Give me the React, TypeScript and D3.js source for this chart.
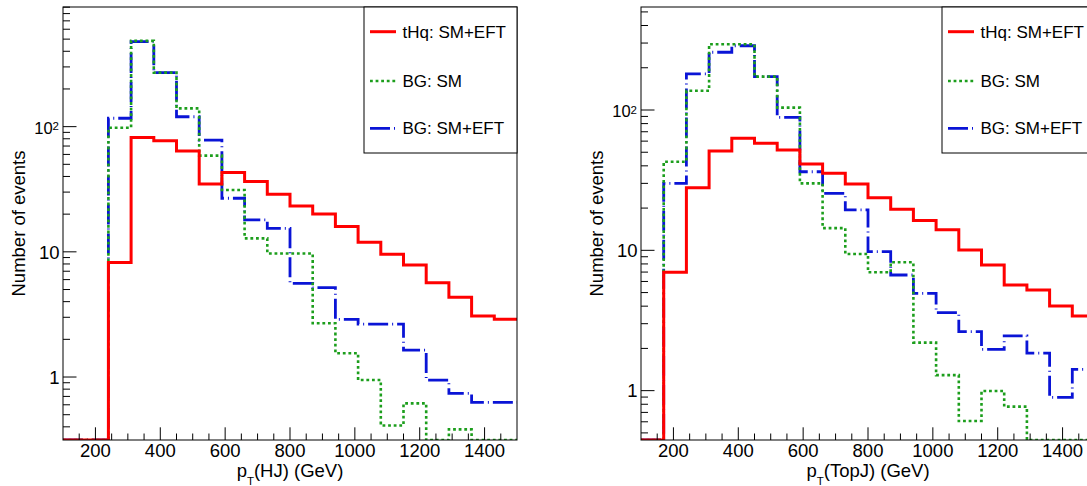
import React from 'react';
import * as d3 from 'd3';

// Bin edges (GeV), 20 bins of 70 GeV
const binEdges = [100, 170, 240, 310, 380, 450, 520, 590, 660, 730, 800, 870, 940, 1010, 1080, 1150, 1220, 1290, 1360, 1430, 1500];

// Left panel: pT(HJ)
const hjSignalEFT = [0, 0, 8.2, 82, 77, 64, 34.8, 43, 36.4, 28.8, 23.2, 20.1, 15.9, 11.9, 9.56, 7.85, 5.67, 4.33, 3.07, 2.89];
const hjBgSM = [0, 0, 98, 484, 270, 140, 58.7, 31.2, 12.8, 9.7, 9.7, 2.69, 1.55, 0.946, 0.41, 0.616, 0, 0.382, 0, 0];
const hjBgEFT = [0, 0, 116.7, 478, 270, 120, 78, 26.8, 18, 15.4, 5.6, 5.17, 2.89, 2.65, 2.65, 1.64, 0.946, 0.74, 0.628, 0.628];

// Right panel: pT(TopJ)
const topSignalEFT = [0, 6.98, 27.9, 51, 62.8, 57.9, 51.9, 41.2, 35.4, 29.7, 23.7, 19.6, 16.3, 14.0, 10.06, 7.87, 5.66, 5.22, 4.01, 3.41];
const topBgSM = [0, 42.8, 137, 294, 294, 173, 104, 30, 14.4, 9.42, 6.98, 8.22, 2.2, 1.29, 0.608, 0.995, 0.769, 0, 0, 0];
const topBgEFT = [0, 30, 181, 258, 287, 173, 88.7, 36.3, 25.5, 19.4, 9.78, 6.67, 4.94, 3.6, 2.63, 1.97, 2.46, 1.85, 0.897, 1.42];

const xTickValues = [200, 400, 600, 800, 1000, 1200, 1400];
const yMajorTicks = [1, 10, 100];
const legendLabels = ['tHq: SM+EFT', 'BG: SM', 'BG: SM+EFT'];
const yTitle = 'Number of events';

const FONT = '"Liberation Sans", Arial, Helvetica, sans-serif';

const styles = [
  { color: '#ff0000', width: 3, dash: undefined as string | undefined },
  { color: '#1c9e1c', width: 2.6, dash: '2.8,2.8' },
  { color: '#0a14d6', width: 2.8, dash: '20,4,1,4' },
];

type PanelProps = {
  id: string;
  left: number;
  top: number;
  width: number;
  height: number;
  yMin: number;
  yMax: number;
  xTitleSub: string;
  xTitleRest: string;
  signal: number[];
  bgSM: number[];
  bgEFT: number[];
};

function Panel(p: PanelProps) {
  const right = p.left + p.width;
  const bottom = p.top + p.height;
  const x = d3.scaleLinear().domain([binEdges[0], binEdges[binEdges.length - 1]]).range([p.left, right]);
  const y = d3.scaleLog().domain([p.yMin, p.yMax]).range([bottom, p.top]);

  const stepPath = (vals: number[]) => {
    const pts: [number, number][] = vals.map((v, i) => [binEdges[i], v]);
    pts.push([binEdges[binEdges.length - 1], vals[vals.length - 1]]);
    const line = d3
      .line<[number, number]>()
      .x((d) => x(d[0]))
      .y((d) => y(Math.max(d[1], p.yMin)))
      .curve(d3.curveStepAfter);
    return line(pts) || '';
  };

  const xMinor = d3.range(150, 1500, 50).filter((v) => v % 200 !== 0);
  const yMinor: number[] = [];
  [0.1, 1, 10, 100].forEach((dec) => {
    for (let k = 2; k <= 9; k++) {
      const v = k * dec;
      if (v > p.yMin && v < p.yMax) yMinor.push(v);
    }
  });

  const clipId = 'clip-' + p.id;
  const legX = right - 153;
  const legY = p.top;
  const legRows = [31.7, 81, 128.3];
  const order = [2, 1, 0];
  const seriesVals = [p.signal, p.bgSM, p.bgEFT];

  return (
    <g>
      <defs>
        <clipPath id={clipId}>
          <rect x={p.left} y={p.top} width={p.width} height={p.height} />
        </clipPath>
      </defs>
      <g clipPath={`url(#${clipId})`}>
        {order.map((si) => (
          <path
            key={si}
            d={stepPath(seriesVals[si])}
            fill="none"
            stroke={styles[si].color}
            strokeWidth={styles[si].width}
            strokeDasharray={styles[si].dash}
            strokeLinejoin="miter"
          />
        ))}
      </g>
      <rect x={p.left} y={p.top} width={p.width} height={p.height} fill="none" stroke="#000" strokeWidth={1} />
      {xTickValues.map((v) => (
        <line key={'xM' + v} x1={x(v)} x2={x(v)} y1={bottom} y2={bottom - 12.7} stroke="#000" strokeWidth={1} />
      ))}
      {xMinor.map((v) => (
        <line key={'xm' + v} x1={x(v)} x2={x(v)} y1={bottom} y2={bottom - 6.5} stroke="#000" strokeWidth={1} />
      ))}
      {xTickValues.map((v) => (
        <text key={'xl' + v} x={x(v)} y={457} textAnchor="middle" fontSize={18.5} fontFamily={FONT} fill="#000">
          {v}
        </text>
      ))}
      {yMajorTicks.map((v) => (
        <line key={'yM' + v} x1={p.left} x2={p.left + 13.5} y1={y(v)} y2={y(v)} stroke="#000" strokeWidth={1} />
      ))}
      {yMinor.map((v) => (
        <line key={'ym' + v} x1={p.left} x2={p.left + 7} y1={y(v)} y2={y(v)} stroke="#000" strokeWidth={1} />
      ))}
      {yMajorTicks.map((v) =>
        v === 100 ? (
          <text key={'yl' + v} x={p.left - 4} y={y(v) + 7.3} textAnchor="end" fontFamily={FONT} fill="#000">
            <tspan fontSize={16.5}>10</tspan>
            <tspan fontSize={11.5} dy={-3.5}>2</tspan>
          </text>
        ) : (
          <text key={'yl' + v} x={p.left - 3.5} y={y(v) + 6.8} textAnchor="end" fontSize={18.5} fontFamily={FONT} fill="#000">
            {v}
          </text>
        )
      )}
      <text x={(p.left + right) / 2} y={477} textAnchor="middle" fontSize={18.5} fontFamily={FONT} fill="#000">
        p<tspan fontSize={11.5} dy={7.5}>{p.xTitleSub}</tspan>
        <tspan dy={-7.5}>{p.xTitleRest}</tspan>
      </text>
      <text
        transform={`translate(${p.left - 38},${(p.top + bottom) / 2}) rotate(-90)`}
        textAnchor="middle"
        fontSize={18.5}
        fontFamily={FONT}
        fill="#000"
      >
        {yTitle}
      </text>
      <rect x={legX} y={legY} width={153} height={146} fill="#fff" stroke="#000" strokeWidth={1} />
      {legendLabels.map((lab, i) => (
        <g key={lab}>
          <line
            x1={legX + 6}
            x2={legX + 32}
            y1={legRows[i]}
            y2={legRows[i]}
            stroke={styles[i].color}
            strokeWidth={styles[i].width}
            strokeDasharray={styles[i].dash}
          />
          <text x={legX + 38.5} y={legRows[i] + 6} fontSize={17} fontFamily={FONT} fill="#000">
            {lab}
          </text>
        </g>
      ))}
    </g>
  );
}

export default function App() {
  return (
    <svg
      width={1087}
      height={486}
      style={{ position: 'absolute', left: 0, top: 0, background: '#fff' }}
    >
      <rect x={0} y={0} width={1087} height={486} fill="#fff" />
      <Panel
        id="hj"
        left={63}
        top={7}
        width={454}
        height={433}
        yMin={0.314}
        yMax={903}
        xTitleSub="T"
        xTitleRest="(HJ) (GeV)"
        signal={hjSignalEFT}
        bgSM={hjBgSM}
        bgEFT={hjBgEFT}
      />
      <Panel
        id="top"
        left={641}
        top={7}
        width={454}
        height={433}
        yMin={0.445}
        yMax={542}
        xTitleSub="T"
        xTitleRest="(TopJ) (GeV)"
        signal={topSignalEFT}
        bgSM={topBgSM}
        bgEFT={topBgEFT}
      />
    </svg>
  );
}
